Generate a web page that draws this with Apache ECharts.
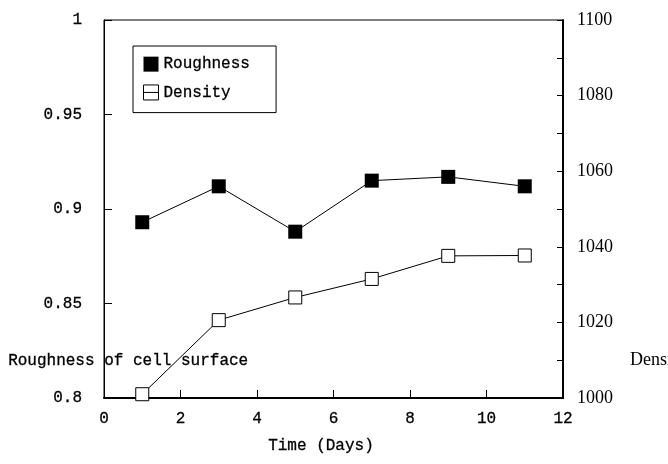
<!DOCTYPE html>
<html>
<head>
<meta charset="utf-8">
<script src="https://cdn.jsdelivr.net/npm/echarts@6/dist/echarts.min.js"></script>
<style>html,body{margin:0;padding:0;background:#fff}#c{width:668px;height:464px}</style>
</head>
<body>
<div id="c"></div>
<script>
var days = [1, 3, 5, 7, 9, 11];
var roughness = [0.893, 0.912, 0.888, 0.915, 0.917, 0.912];
var density = [1001, 1020.6, 1026.6, 1031.5, 1037.6, 1037.7];
var xTicks = [0, 2, 4, 6, 8, 10, 12];
var leftTicks = [0.8, 0.85, 0.9, 0.95, 1];
var rightTicks = [1000, 1020, 1040, 1060, 1080, 1100];

var mono = '"Liberation Mono", monospace';
var serif = '"Liberation Serif", serif';
var tb = 0.3;

var chart = echarts.init(document.getElementById('c'));
chart.setOption({
  animation: false,
  backgroundColor: '#fff',
  grid: { left: 104, right: 105, top: 20, bottom: 66, show: true, borderColor: '#000', borderWidth: 1 },
  legend: {
    left: 133, top: 46, orient: 'vertical',
    borderColor: '#000', borderWidth: 1,
    padding: [10, 26, 12, 10],
    itemWidth: 15, itemHeight: 15, itemGap: 12,
    textStyle: { fontFamily: mono, fontSize: 16, color: '#000', textBorderColor: '#000', textBorderWidth: tb },
    data: [
      { name: 'Roughness', icon: 'rect' },
      { name: 'Density', icon: 'path://M0,0L10,0L10,10L0,10ZM0,5L10,5', itemStyle: { color: '#fff', borderColor: '#000', borderWidth: 1 } }
    ]
  },
  xAxis: {
    type: 'value', min: xTicks[0], max: xTicks[xTicks.length - 1], interval: 2,
    axisLine: { lineStyle: { color: '#000', width: 2 } },
    axisTick: { inside: true, length: 8, lineStyle: { color: '#000' } },
    axisLabel: { fontFamily: mono, fontSize: 16, color: '#000', margin: 13, textBorderColor: '#000', textBorderWidth: tb },
    splitLine: { show: false }
  },
  yAxis: [
    {
      type: 'value', min: leftTicks[0], max: leftTicks[leftTicks.length - 1], interval: 0.05,
      axisLine: { show: true, lineStyle: { color: '#000', width: 1 } },
      axisTick: { show: true, inside: true, length: 8, lineStyle: { color: '#000' } },
      axisLabel: { fontFamily: mono, fontSize: 16, color: '#000', margin: 22, textBorderColor: '#000', textBorderWidth: tb },
      splitLine: { show: false }
    },
    {
      type: 'value', position: 'right', min: rightTicks[0], max: rightTicks[rightTicks.length - 1], interval: 20,
      axisLine: { show: true, lineStyle: { color: '#000', width: 2 } },
      axisTick: { show: true, inside: true, length: 6, lineStyle: { color: '#000' } },
      minorTick: { show: true, splitNumber: 2, length: 6, lineStyle: { color: '#000' } },
      axisLabel: { fontFamily: serif, fontSize: 18, color: '#000', margin: 14, formatter: function (v) { return String(v); } },
      splitLine: { show: false }
    }
  ],
  series: [
    {
      name: 'Roughness', type: 'line', yAxisIndex: 0,
      data: days.map(function (d, i) { return [d, roughness[i]]; }),
      symbol: 'rect', symbolSize: 14,
      itemStyle: { color: '#000' },
      lineStyle: { color: '#000', width: 1 }
    },
    {
      name: 'Density', type: 'line', yAxisIndex: 1,
      data: days.map(function (d, i) { return [d, density[i]]; }),
      symbol: 'rect', symbolSize: 13, showAllSymbol: true,
      itemStyle: { color: '#fff', borderColor: '#000', borderWidth: 1 },
      lineStyle: { color: '#000', width: 1 }
    }
  ],
  graphic: [
    { type: 'text', left: 8, top: 353, style: { text: 'Roughness of cell surface', font: '16px ' + mono, fill: '#000', stroke: '#000', lineWidth: tb } },
    { type: 'text', left: 268, top: 438, style: { text: 'Time (Days)', font: '16px ' + mono, fill: '#000', stroke: '#000', lineWidth: tb } },
    { type: 'text', left: 630, top: 351, style: { text: 'Density', font: '18px ' + serif, fill: '#000' } }
  ]
});
</script>
</body>
</html>
